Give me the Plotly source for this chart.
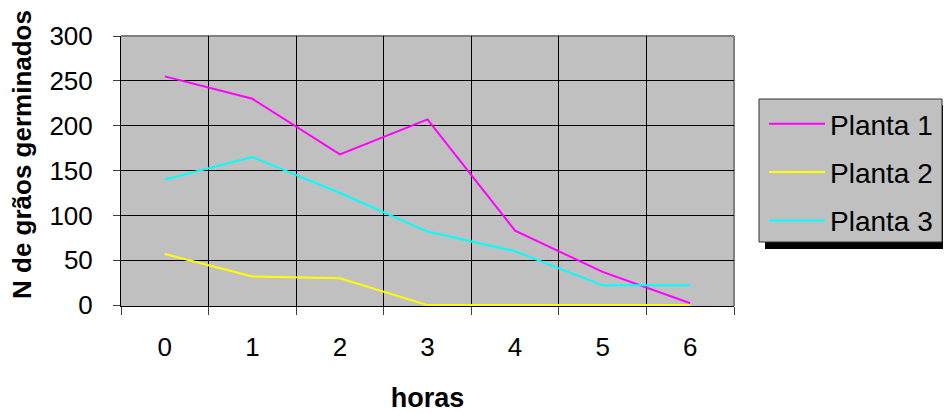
import plotly.graph_objects as go

horas = ["0", "1", "2", "3", "4", "5", "6"]
planta1 = [255, 230, 168, 207, 83, 37, 2]
planta2 = [57, 32, 30, 0, 0, 0, 0]
planta3 = [140, 165, 125, 82, 60, 22, 22]

series = [
    ("Planta 1", planta1, "#FF00FF"),
    ("Planta 2", planta2, "#FFFF00"),
    ("Planta 3", planta3, "#00FFFF"),
]

FONT = "Liberation Sans, Arial, sans-serif"

# plot area in reference pixels: x 121..734, y 36..306
def px_x(p):
    return (p - 121) / 613.0

def px_y(p):
    return (306 - p) / 270.0

fig = go.Figure()
for name, vals, col in series:
    fig.add_trace(go.Scatter(
        x=horas, y=vals, name=name, mode="lines",
        line=dict(color=col, width=2), legendgroup=name,
    ))

fig.update_layout(
    template="none",
    width=943, height=405,
    margin=dict(l=113, r=217, t=28, b=107),
    paper_bgcolor="white",
    plot_bgcolor="#C0C0C0",
    font=dict(family=FONT, size=26, color="black"),
    showlegend=True,
    legend=dict(
        x=px_x(764), y=px_y(99), xanchor="left", yanchor="top",
        bgcolor="rgba(0,0,0,0)", borderwidth=0,
        font=dict(size=28), tracegroupgap=9, itemwidth=56,
    ),
    xaxis=dict(
        type="category", tickson="boundaries",
        range=[-0.5, 6.5], automargin=False,
        showgrid=True, gridcolor="black", gridwidth=1,
        ticks="outside", ticklen=8, tickcolor="#404040", tickwidth=1,
        showline=True, linecolor="black", linewidth=1,
        layer="below traces", zeroline=False,
        ticklabelstandoff=18,
        title=dict(text="<b>horas</b>", font=dict(size=27), standoff=28),
        tickfont=dict(size=26),
    ),
    yaxis=dict(
        range=[-1, 300], tickvals=[0, 50, 100, 150, 200, 250, 300],
        automargin=False,
        showgrid=True, gridcolor="black", gridwidth=1,
        ticks="outside", ticklen=7, tickcolor="#404040", tickwidth=1,
        showline=True, linecolor="black", linewidth=1,
        zeroline=False, layer="below traces",
        ticklabelstandoff=15,
        tickfont=dict(size=26),
    ),
    annotations=[
        dict(text="<b>N de grãos germinados</b>", textangle=-90,
             xref="paper", yref="paper", x=px_x(22), y=px_y(155),
             xanchor="center", yanchor="middle", showarrow=False,
             font=dict(size=26)),
    ],
    shapes=[
        dict(type="line", xref="paper", yref="paper", x0=0, x1=1, y0=1, y1=1,
             line=dict(color="#808080", width=2), layer="below"),
        dict(type="line", xref="paper", yref="paper", x0=1, x1=1, y0=0, y1=1,
             line=dict(color="#808080", width=2), layer="below"),
        dict(type="rect", xref="paper", yref="paper",
             x0=px_x(765), x1=px_x(949),
             y0=px_y(249), y1=px_y(105),
             fillcolor="black", line=dict(width=0), layer="above"),
        dict(type="rect", xref="paper", yref="paper",
             x0=px_x(759), x1=px_x(942),
             y0=px_y(242), y1=px_y(99),
             fillcolor="#C0C0C0", line=dict(color="#303030", width=1), layer="above"),
    ],
)

fig.write_html("out.html")
